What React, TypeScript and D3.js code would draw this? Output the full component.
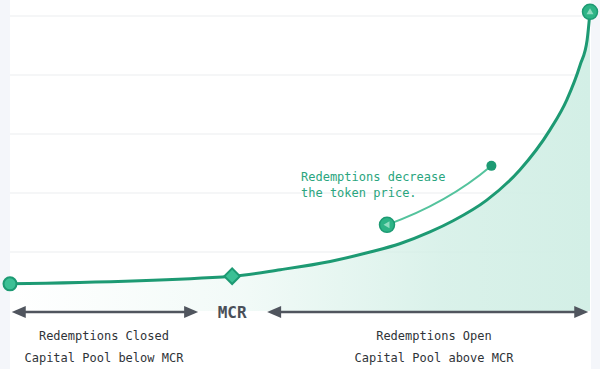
import React, { useEffect, useRef } from "react";
import * as d3 from "d3";

// capital pool (% of range) and token price values
const poolRatio = [0, 38.3, 46.6, 55.2, 62.1, 67.2, 72.4, 76.4, 82.2, 87.9, 93.1, 96.0, 98.3, 99.5, 100];
const tokenPrice = [0.46, 0.59, 0.7, 0.84, 1.0, 1.14, 1.34, 1.53, 1.88, 2.39, 3.07, 3.58, 4.17, 4.59, 5.07];
const gridValues = [1, 2, 3, 4, 5];
const mcrIndex = 1;

// annotation line: start near the curve, end at the label
const noteX = [65.0, 83.0];
const notePrice = [1.46, 2.46];
const noteLines = ["Redemptions decrease", "the token price."];

const zoneLabels = [
  { x: 16.2, lines: ["Redemptions Closed", "Capital Pool below MCR"] },
  { x: 73.1, lines: ["Redemptions Open", "Capital Pool above MCR"] }
];

const App = () => {
  const ref = useRef<SVGSVGElement | null>(null);
  const width = 600;
  const height = 369;

  useEffect(() => {
    const svg = d3.select(ref.current);
    svg.selectAll("*").remove();

    const x = d3.scaleLinear().domain([0, 100]).range([10, 590]);
    const y = d3.scaleLinear().domain([0, 5]).range([311, 16]);

    const mono = "'DejaVu Sans Mono', 'Liberation Mono', monospace";
    const green = "#1d9a73";
    const light = "#54c39d";
    const grey = "#50555e";

    // side strips
    svg.append("rect").attr("x", 0).attr("y", 0).attr("width", 10).attr("height", height).attr("fill", "#f4f6fa");
    svg.append("rect").attr("x", 591).attr("y", 0).attr("width", 9).attr("height", height).attr("fill", "#f4f6fa");

    const defs = svg.append("defs");
    const grad = defs
      .append("linearGradient")
      .attr("id", "areaFill")
      .attr("x1", "0%")
      .attr("y1", "0%")
      .attr("x2", "100%")
      .attr("y2", "0%");
    grad.append("stop").attr("offset", "0%").attr("stop-color", "#d3efe6").attr("stop-opacity", 0);
    grad.append("stop").attr("offset", "40%").attr("stop-color", "#d3efe6").attr("stop-opacity", 0.3);
    grad.append("stop").attr("offset", "75%").attr("stop-color", "#d3efe6").attr("stop-opacity", 0.85);
    grad.append("stop").attr("offset", "100%").attr("stop-color", "#d3efe6").attr("stop-opacity", 1);

    // gridlines
    svg
      .append("g")
      .selectAll("line")
      .data(gridValues)
      .join("line")
      .attr("x1", x(0))
      .attr("x2", x(100))
      .attr("y1", d => y(d))
      .attr("y2", d => y(d))
      .attr("stroke", "#ebedef")
      .attr("stroke-width", 1);

    const pts: [number, number][] = poolRatio.map((p, i) => [p, tokenPrice[i]]);
    const curve = d3.curveMonotoneX;

    const area = d3
      .area<[number, number]>()
      .x(d => x(d[0]))
      .y0(y(0))
      .y1(d => y(d[1]))
      .curve(curve);

    const line = d3
      .line<[number, number]>()
      .x(d => x(d[0]))
      .y(d => y(d[1]))
      .curve(curve);

    svg.append("path").datum(pts).attr("d", area).attr("fill", "url(#areaFill)");
    svg
      .append("path")
      .datum(pts)
      .attr("d", line)
      .attr("fill", "none")
      .attr("stroke", green)
      .attr("stroke-width", 3);

    // annotation
    const nx0 = x(noteX[0]);
    const ny0 = y(notePrice[0]);
    const nx1 = x(noteX[1]);
    const ny1 = y(notePrice[1]);
    svg
      .append("path")
      .attr("d", `M${nx0},${ny0} Q${(nx0 + nx1) / 2 + 8},${(ny0 + ny1) / 2 + 8} ${nx1},${ny1}`)
      .attr("fill", "none")
      .attr("stroke", light)
      .attr("stroke-width", 2);
    svg.append("circle").attr("cx", nx1).attr("cy", ny1).attr("r", 5).attr("fill", green);
    svg
      .append("circle")
      .attr("cx", nx0)
      .attr("cy", ny0)
      .attr("r", 7.5)
      .attr("fill", "#2db486")
      .attr("stroke", green)
      .attr("stroke-width", 1.5);
    svg
      .append("path")
      .attr("d", `M${nx0 - 3.5},${ny0} L${nx0 + 2.5},${ny0 - 3.5} L${nx0 + 2.5},${ny0 + 3.5} Z`)
      .attr("fill", "#8fdcc0");

    svg
      .append("g")
      .selectAll("text")
      .data(noteLines)
      .join("text")
      .attr("x", 301)
      .attr("y", (d, i) => 181 + i * 16)
      .attr("font-family", mono)
      .attr("font-size", 12)
      .attr("fill", "#2aa57e")
      .text(d => d);

    // start marker
    svg
      .append("circle")
      .attr("cx", x(poolRatio[0]))
      .attr("cy", y(tokenPrice[0]))
      .attr("r", 6.5)
      .attr("fill", "#3cc095")
      .attr("stroke", green)
      .attr("stroke-width", 2);

    // MCR diamond
    const mx = x(poolRatio[mcrIndex]);
    const my = y(tokenPrice[mcrIndex]);
    svg
      .append("rect")
      .attr("x", mx - 5.5)
      .attr("y", my - 5.5)
      .attr("width", 11)
      .attr("height", 11)
      .attr("transform", `rotate(45 ${mx} ${my})`)
      .attr("fill", "#3cc095")
      .attr("stroke", green)
      .attr("stroke-width", 2);

    // end marker
    const ex = x(poolRatio[poolRatio.length - 1]);
    const ey = y(tokenPrice[tokenPrice.length - 1]);
    svg
      .append("circle")
      .attr("cx", ex)
      .attr("cy", ey)
      .attr("r", 7.5)
      .attr("fill", "#2db486")
      .attr("stroke", green)
      .attr("stroke-width", 1.5);
    svg
      .append("path")
      .attr("d", `M${ex},${ey - 3.5} L${ex + 3.5},${ey + 2.5} L${ex - 3.5},${ey + 2.5} Z`)
      .attr("fill", "#8fdcc0");

    // arrows
    const arrowY = 312;
    const arrow = (x1: number, x2: number) => {
      svg
        .append("line")
        .attr("x1", x1 + 8)
        .attr("x2", x2 - 8)
        .attr("y1", arrowY)
        .attr("y2", arrowY)
        .attr("stroke", grey)
        .attr("stroke-width", 2.5);
      svg
        .append("path")
        .attr("d", `M${x1},${arrowY} L${x1 + 14},${arrowY - 6} L${x1 + 14},${arrowY + 6} Z`)
        .attr("fill", grey);
      svg
        .append("path")
        .attr("d", `M${x2},${arrowY} L${x2 - 14},${arrowY - 6} L${x2 - 14},${arrowY + 6} Z`)
        .attr("fill", grey);
    };
    arrow(x(0.3), mx - 34);
    arrow(mx + 35, x(99.7));

    svg
      .append("text")
      .attr("x", mx)
      .attr("y", arrowY + 6)
      .attr("text-anchor", "middle")
      .attr("font-family", mono)
      .attr("font-size", 16)
      .attr("font-weight", "bold")
      .attr("fill", "#4a4f58")
      .text("MCR");

    zoneLabels.forEach(z => {
      svg
        .append("g")
        .selectAll("text")
        .data(z.lines)
        .join("text")
        .attr("x", x(z.x))
        .attr("y", (d, i) => 340 + i * 22)
        .attr("text-anchor", "middle")
        .attr("font-family", mono)
        .attr("font-size", 12)
        .attr("fill", "#2f3338")
        .text(d => d);
    });
  }, []);

  return (
    <svg
      ref={ref}
      width={width}
      height={height}
      style={{ position: "absolute", top: 0, left: 0, background: "#fff" }}
    />
  );
};

export default App;
